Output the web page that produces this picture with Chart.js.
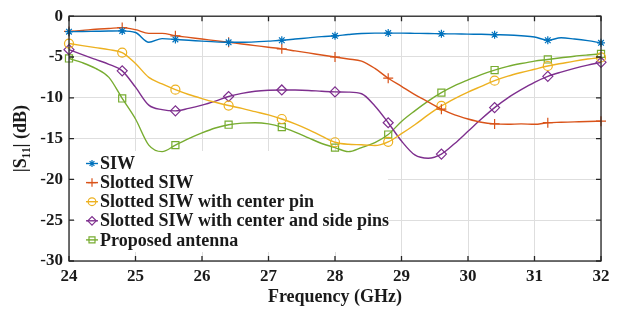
<!DOCTYPE html>
<html>
<head>
<meta charset="utf-8">
<script src="https://cdn.jsdelivr.net/npm/chart.js"></script>
<style>
  html, body { margin: 0; padding: 0; background: #fff; }
  #wrap { width: 635px; height: 316px; }
</style>
</head>
<body>
<div id="wrap"><canvas id="chart" width="635" height="316"></canvas></div>
<script>
// frequency grid (GHz), markers every 0.8 GHz
const freq = [24.0, 24.2, 24.4, 24.6, 24.8, 25.0, 25.2, 25.4, 25.6, 25.8,
              26.0, 26.2, 26.4, 26.6, 26.8, 27.0, 27.2, 27.4, 27.6, 27.8,
              28.0, 28.2, 28.4, 28.6, 28.8, 29.0, 29.2, 29.4, 29.6, 29.8,
              30.0, 30.2, 30.4, 30.6, 30.8, 31.0, 31.2, 31.4, 31.6, 31.8, 32.0];

const siw = [-1.9, -1.88, -1.85, -1.82, -1.8, -2.0, -3.2, -2.75, -2.85, -2.95,
             -3.05, -3.15, -3.2, -3.2, -3.15, -3.05, -2.95, -2.8, -2.65, -2.5,
             -2.4, -2.25, -2.12, -2.07, -2.07, -2.08, -2.1, -2.12, -2.15, -2.17,
             -2.2, -2.22, -2.27, -2.3, -2.4, -2.55, -2.95, -2.65, -2.8, -3.0, -3.26];

const slotted = [-1.87, -1.75, -1.6, -1.5, -1.4, -1.65, -2.1, -2.1, -2.4, -2.6,
                 -2.8, -3.0, -3.2, -3.4, -3.6, -3.8, -4.0, -4.25, -4.5, -4.75,
                 -5.0, -5.25, -5.5, -6.4, -7.6, -8.6, -9.6, -10.5, -11.4, -12.1,
                 -12.6, -13.0, -13.2, -13.25, -13.2, -13.25, -13.05, -13.0, -12.95, -12.9, -12.87];

const centerPin = [-3.35, -3.6, -3.85, -4.1, -4.46, -5.8, -7.5, -8.3, -9.0, -9.6,
                   -10.1, -10.55, -10.95, -11.3, -11.7, -12.1, -12.6, -13.2, -13.9, -14.7,
                   -15.45, -15.7, -15.75, -15.85, -15.4, -14.4, -13.3, -12.1, -11.0, -10.1,
                   -9.3, -8.6, -7.9, -7.35, -6.9, -6.5, -6.1, -5.8, -5.5, -5.25, -5.05];

const centerSidePins = [-4.1, -4.7, -5.3, -5.9, -6.7, -8.7, -10.9, -11.45, -11.6, -11.3,
                        -10.9, -10.4, -9.84, -9.45, -9.2, -9.08, -9.04, -9.05, -9.1, -9.2,
                        -9.28, -9.3, -9.5, -11.0, -13.06, -15.3, -17.0, -17.4, -16.9, -15.6,
                        -14.1, -12.6, -11.2, -10.0, -9.0, -8.1, -7.37, -6.85, -6.4, -6.0, -5.65];

const proposed = [-5.18, -5.7, -6.4, -7.5, -10.08, -12.6, -15.8, -16.6, -15.8, -15.0,
                  -14.3, -13.7, -13.3, -13.1, -13.05, -13.2, -13.6, -14.2, -14.9, -15.6,
                  -16.1, -16.6, -16.1, -15.5, -14.5, -12.9, -11.6, -10.4, -9.36, -8.5,
                  -7.8, -7.15, -6.6, -6.15, -5.8, -5.5, -5.3, -5.1, -4.9, -4.75, -4.62];

const seriesNames = ['SIW', 'Slotted SIW', 'Slotted SIW with center pin',
                     'Slotted SIW with center and side pins', 'Proposed antenna'];

const FONT = "'Liberation Serif', 'Times New Roman', serif";
const TEXT = '#1a1a1a';

function makeSet(label, values, color, style, radius) {
    return {
        label: label,
        data: freq.map((f, i) => ({ x: f, y: values[i] })),
        borderColor: color,
        backgroundColor: color,
        borderWidth: 1.4,
        pointStyle: style,
        pointBorderColor: color,
        pointBackgroundColor: 'rgba(0,0,0,0)',
        pointBorderWidth: 1.2,
        pointRadius: (ctx) => ctx.dataIndex % 4 === 0 ? radius : 0,
        pointHoverRadius: 0,
        cubicInterpolationMode: 'monotone',
        clip: false,
        mRadius: radius
    };
}

// draw a legend marker with the same style as the points
function drawMarker(ctx, style, x, y, r) {
    ctx.beginPath();
    switch (style) {
        case 'circle':
            ctx.arc(x, y, r, 0, Math.PI * 2);
            break;
        case 'rectRot':
            ctx.moveTo(x - r, y); ctx.lineTo(x, y - r);
            ctx.lineTo(x + r, y); ctx.lineTo(x, y + r); ctx.closePath();
            break;
        case 'rect': {
            const h = r * Math.SQRT1_2;
            ctx.rect(x - h, y - h, 2 * h, 2 * h);
            break;
        }
        case 'cross':
            ctx.moveTo(x - r, y); ctx.lineTo(x + r, y);
            ctx.moveTo(x, y - r); ctx.lineTo(x, y + r);
            break;
        case 'star': {
            const d = r * Math.SQRT1_2;
            ctx.moveTo(x - r, y); ctx.lineTo(x + r, y);
            ctx.moveTo(x, y - r); ctx.lineTo(x, y + r);
            ctx.moveTo(x - d, y - d); ctx.lineTo(x + d, y + d);
            ctx.moveTo(x - d, y + d); ctx.lineTo(x + d, y - d);
            break;
        }
    }
    ctx.stroke();
}

const legendBox = {
    id: 'legendBox',
    beforeDatasetsDraw(chart) {
        const ctx = chart.ctx;
        ctx.save();
        ctx.fillStyle = '#ffffff';
        ctx.fillRect(75, 151, 313, 101);
        ctx.restore();
    },
    afterDraw(chart) {
        const ctx = chart.ctx;
        const area = chart.chartArea;
        ctx.save();

        // legend entries
        ctx.font = 'bold 18px ' + FONT;
        ctx.textBaseline = 'middle';
        ctx.textAlign = 'left';
        chart.data.datasets.forEach((ds, i) => {
            const y = 163.5 + i * 19.1;
            ctx.strokeStyle = ds.borderColor;
            ctx.lineWidth = 1.4;
            ctx.beginPath();
            ctx.moveTo(86, y); ctx.lineTo(98, y);
            ctx.stroke();
            ctx.lineWidth = 1.2;
            drawMarker(ctx, ds.pointStyle, 92, y, ds.mRadius * 0.85);
            ctx.fillStyle = TEXT;
            ctx.fillText(ds.label, 100, y + 1);
        });

        // box frame with inward ticks
        ctx.strokeStyle = '#262626';
        ctx.lineWidth = 1.3;
        ctx.strokeRect(area.left, area.top, area.right - area.left, area.bottom - area.top);
        ctx.beginPath();
        const xs = chart.scales.x, ys = chart.scales.y;
        xs.ticks.forEach(t => {
            const px = xs.getPixelForValue(t.value);
            ctx.moveTo(px, area.bottom); ctx.lineTo(px, area.bottom - 5);
            ctx.moveTo(px, area.top); ctx.lineTo(px, area.top + 5);
        });
        ys.ticks.forEach(t => {
            const py = ys.getPixelForValue(t.value);
            ctx.moveTo(area.left, py); ctx.lineTo(area.left + 5, py);
            ctx.moveTo(area.right, py); ctx.lineTo(area.right - 5, py);
        });
        ctx.stroke();
        ctx.restore();
    }
};

const ctx = document.getElementById('chart').getContext('2d');
new Chart(ctx, {
    type: 'line',
    data: {
        datasets: [
            makeSet(seriesNames[0], siw, '#0072BD', 'star', 4),
            makeSet(seriesNames[1], slotted, '#D95319', 'cross', 5),
            makeSet(seriesNames[2], centerPin, '#EDB120', 'circle', 4.5),
            makeSet(seriesNames[3], centerSidePins, '#7E2F8E', 'rectRot', 5),
            makeSet(seriesNames[4], proposed, '#77AC30', 'rect', 5)
        ]
    },
    options: {
        responsive: false,
        animation: false,
        devicePixelRatio: 1,
        layout: { padding: { top: 10, right: 34, left: 0, bottom: 0 } },
        plugins: {
            legend: { display: false },
            tooltip: { enabled: false }
        },
        scales: {
            x: {
                type: 'linear',
                min: 24,
                max: 32,
                afterFit: (s) => { s.height = 55; },
                ticks: {
                    stepSize: 1,
                    padding: 5,
                    color: TEXT,
                    font: { family: FONT, size: 17, weight: 'bold' }
                },
                grid: { color: '#dedede', lineWidth: 1, drawTicks: false },
                border: { display: false },
                title: {
                    display: true,
                    text: 'Frequency (GHz)',
                    color: TEXT,
                    padding: { top: 0, bottom: 8 },
                    font: { family: FONT, size: 18, weight: 'bold' }
                }
            },
            y: {
                min: -30,
                max: 0,
                afterFit: (s) => { s.width = 69; },
                ticks: {
                    stepSize: 5,
                    padding: 6,
                    color: TEXT,
                    font: { family: FONT, size: 17, weight: 'bold' }
                },
                grid: { color: '#dedede', lineWidth: 1, drawTicks: false },
                border: { display: false },
                title: {
                    display: true,
                    text: '|S\u2081\u2081| (dB)',
                    color: TEXT,
                    padding: { top: 11, bottom: 0 },
                    font: { family: FONT, size: 18, weight: 'bold' }
                }
            }
        }
    },
    plugins: [legendBox]
});
</script>
</body>
</html>
